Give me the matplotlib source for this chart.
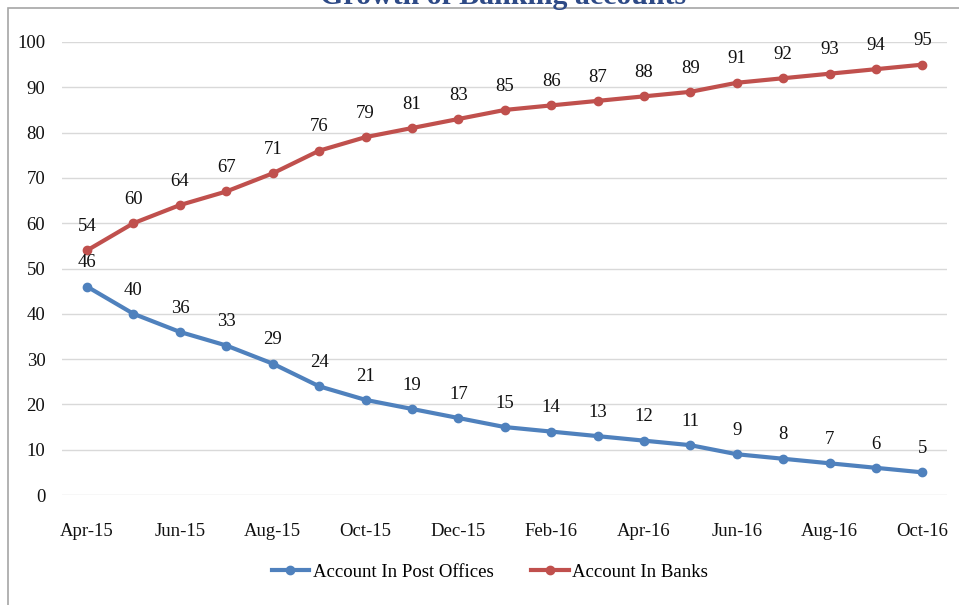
import matplotlib
matplotlib.use("Agg")
import matplotlib.pyplot as plt
from matplotlib.patches import Rectangle

months = ["Apr-15", "May-15", "Jun-15", "Jul-15", "Aug-15", "Sep-15", "Oct-15", "Nov-15",
          "Dec-15", "Jan-16", "Feb-16", "Mar-16", "Apr-16", "May-16", "Jun-16", "Jul-16",
          "Aug-16", "Sep-16", "Oct-16"]
post_offices = [46, 40, 36, 33, 29, 24, 21, 19, 17, 15, 14, 13, 12, 11, 9, 8, 7, 6, 5]
banks = [54, 60, 64, 67, 71, 76, 79, 81, 83, 85, 86, 87, 88, 89, 91, 92, 93, 94, 95]
yticks = [0, 10, 20, 30, 40, 50, 60, 70, 80, 90, 100]

W, H = 959, 605
fig = plt.figure(figsize=(W / 100, H / 100), dpi=100)
plt.rcParams['font.family'] = ['Liberation Serif', 'DejaVu Serif']

# border box
fig.patches.append(Rectangle((8 / W, -0.01), 1.02, 1 - 8 / H + 0.01, transform=fig.transFigure,
                             fill=False, edgecolor="#a6a6a6", linewidth=1.2))
# title (cut off at the top edge as in the reference)
fig.text(503 / W, 1 - 4 / H, "Growth of Banking accounts", ha="center", va="baseline",
         fontsize=21.5, fontweight="bold", color="#2e4a86")

ax = fig.add_axes([62 / W, 1 - 495 / H, (947 - 62) / W, (495 - 42) / H])
x = list(range(len(months)))
blue = "#4F81BD"
red = "#C0504D"
ax.plot(x, post_offices, color=blue, linewidth=3, marker="o", markersize=6,
        label="Account In Post Offices")
ax.plot(x, banks, color=red, linewidth=3, marker="o", markersize=6,
        label="Account In Banks")

for xi, v in zip(x, post_offices):
    ax.annotate(str(v), (xi, v), xytext=(0, 11), textcoords="offset points", ha="center",
                va="bottom", fontsize=13.5, color="#111111")
for xi, v in zip(x, banks):
    ax.annotate(str(v), (xi, v), xytext=(0, 11), textcoords="offset points", ha="center",
                va="bottom", fontsize=13.5, color="#111111")

ax.set_xlim(-0.54, 18.53)
ax.set_ylim(0, 100)
ax.set_yticks(yticks)
ax.set_yticklabels([str(t) for t in yticks], fontsize=13.5)
ax.set_xticks(x[::2])
ax.set_xticklabels(months[::2], fontsize=13.5)
ax.tick_params(axis="both", length=0, colors="#111111")
ax.tick_params(axis="x", pad=20)
ax.tick_params(axis="y", pad=12)
ax.grid(axis="y", color="#d9d9d9", linewidth=1)
ax.set_axisbelow(True)
for s in ax.spines.values():
    s.set_visible(False)

leg = fig.legend(loc="center", bbox_to_anchor=(490 / W, 1 - 572 / H), ncol=2, frameon=False,
                 fontsize=13.5, handlelength=2.0, columnspacing=2.0, handletextpad=0.2)

fig.savefig("out.png", dpi=100)
